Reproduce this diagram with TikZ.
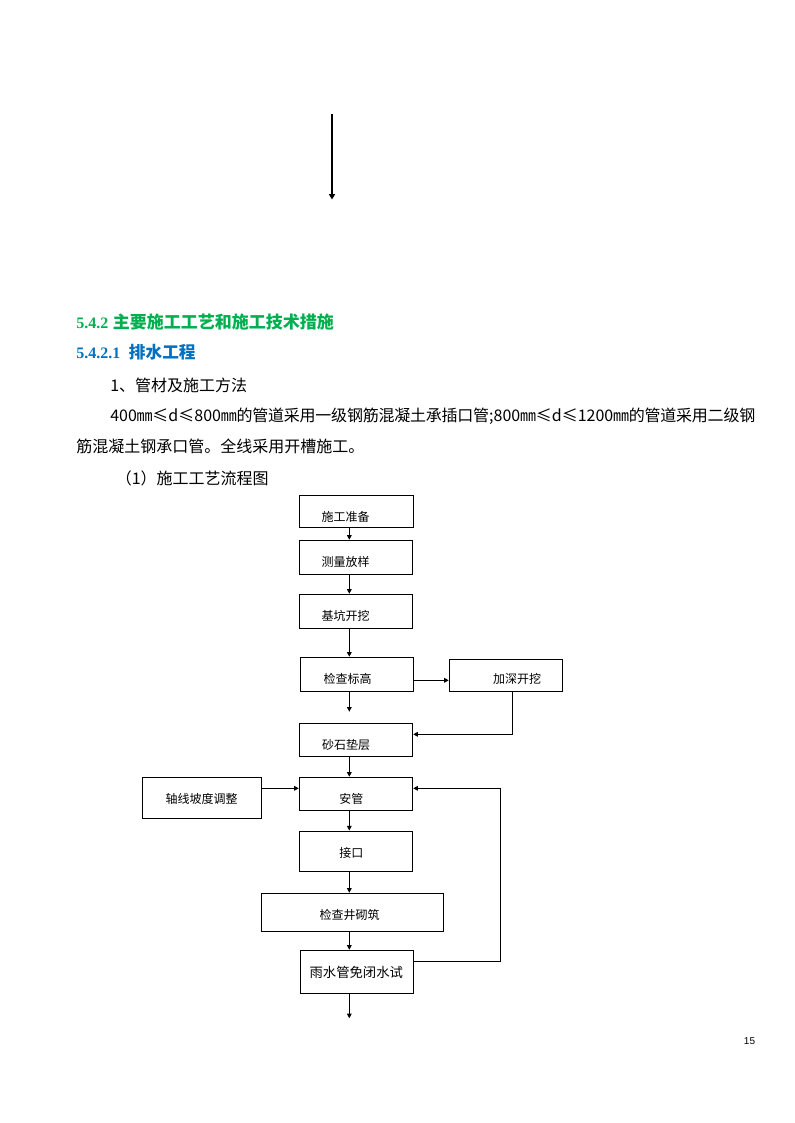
\documentclass[tikz,border=0pt]{standalone}
\usepackage{fontspec}
\setmainfont{Liberation Serif}
\newfontfamily\cjk{Noto Sans CJK SC}
\newfontfamily\pagefont{Liberation Sans}
\usetikzlibrary{arrows.meta}
\XeTeXlinebreaklocale "zh"
\XeTeXlinebreakskip=0pt plus 1pt minus 0.3pt
\definecolor{hgreen}{RGB}{0,176,80}
\definecolor{hblue}{RGB}{0,112,192}
\tikzset{
  bx/.style 2 args={draw, line width=0.75pt, inner sep=0pt, minimum width=#1*0.75pt, minimum height=#2*0.75pt},
  lbl/.style={inner sep=0pt, font=\cjk\fontsize{9pt}{11pt}\selectfont},
  arr/.style={line width=0.75pt, -{Triangle[length=3.5pt,width=3.5pt]}},
  ln/.style={line width=0.75pt},
  body/.style={inner sep=0pt, anchor=west, font=\cjk\fontsize{12pt}{16pt}\selectfont},
}
\begin{document}
\begin{tikzpicture}[x=0.75pt,y=-0.75pt]
\useasboundingbox (0,0) rectangle (794,1123);
% top arrow
\coordinate (ta) at (332,114);
\coordinate (tb) at (332,199.5);
\draw[line width=1.5pt, -{Triangle[length=4pt,width=4.5pt]}] (ta) -- (tb);

% headings
\node[inner sep=0pt, anchor=west, text=hgreen, font=\bfseries\fontsize{12pt}{16pt}\selectfont] (h1) at (76,322) {5.4.2\hspace{3.5pt}{\cjk\bfseries\fontsize{12.75pt}{16pt}\selectfont 主要施工工艺和施工技术措施}};
\node[inner sep=0pt, anchor=west, text=hblue, font=\bfseries\fontsize{12pt}{16pt}\selectfont] (h2) at (76,352.5) {5.4.2.1\hspace{6.5pt}{\cjk\bfseries\fontsize{12.5pt}{16pt}\selectfont 排水工程}};
\node[body] (b1) at (110,385) {1、管材及施工方法};
\node[body, text width=645*0.75pt] (b2) at (110,416.7) {\parfillskip=0pt 400㎜≤d≤800㎜的管道采用一级钢筋混凝土承插口管;800㎜≤d≤1200㎜的管道采用二级钢\par};
\node[body] (b3) at (76,446.7) {筋混凝土钢承口管。全线采用开槽施工。};
\node[body] (b4) at (115.5,478.3) {（1）施工工艺流程图};

% column for arrows
\coordinate (col) at (349.3,0);

% boxes
\node[bx={114}{32}] (n1) at (356.3,511.3) {};
\node[bx={113.4}{34}] (n2) at (356,557.3) {};
\node[bx={113.4}{34}] (n3) at (356,611.3) {};
\node[bx={113}{34}] (n4) at (356.8,674.3) {};
\node[bx={113.4}{32}] (n4b) at (506,675.3) {};
\node[bx={113.4}{32.7}] (n5) at (356,739.7) {};
\node[bx={119.4}{41}] (n6) at (202,797.8) {};
\node[bx={113.4}{33.4}] (n7) at (356,794) {};
\node[bx={113.4}{40.3}] (n8) at (356,851.2) {};
\node[bx={182}{38.4}] (n9) at (352.3,912.5) {};
\node[bx={113}{43}] (n10) at (356.8,971.8) {};

% labels
\node[lbl] (t1) at (345.5,516.7) {施工准备};
\node[lbl] (t2) at (345.5,561.7) {测量放样};
\node[lbl] (t3) at (345.5,616) {基坑开挖};
\node[lbl] (t4) at (347.5,679.3) {检查标高};
\node[lbl] (t4b) at (517,679.3) {加深开挖};
\node[lbl] (t5) at (346,745) {砂石垫层};
\node[lbl] (t6) at (201.7,799) {轴线坡度调整};
\node[lbl] (t7) at (351.3,799.3) {安管};
\node[lbl] (t8) at (351.3,853.3) {接口};
\node[lbl] (t9) at (349.7,915) {检查井砌筑};
\node[lbl, font=\cjk\fontsize{10pt}{12pt}\selectfont] (t10) at (356.3,972.7) {雨水管免闭水试};

% helper coordinates
\coordinate (gap1) at (349.3,711.7);
\coordinate (endc) at (349.3,1018.3);
\coordinate (yA) at (0,680.3);
\coordinate (xB) at (512.3,734.3);
\coordinate (yC) at (0,788.3);
\coordinate (fb1) at (500.7,961);

% connectors
\draw[arr] (n1.south -| col) -- (n2.north -| col);
\draw[arr] (n2.south -| col) -- (n3.north -| col);
\draw[arr] (n3.south -| col) -- (n4.north -| col);
\draw[arr] (n4.south -| col) -- (gap1);
\draw[arr] (n4.east |- yA) -- (n4b.west |- yA);
\draw[arr] (n4b.south -| xB) -- (xB) -- (n5.east |- xB);
\draw[arr] (n5.south -| col) -- (n7.north -| col);
\draw[arr] (n6.east |- yC) -- (n7.west |- yC);
\draw[arr] (n7.south -| col) -- (n8.north -| col);
\draw[arr] (n8.south -| col) -- (n9.north -| col);
\draw[arr] (n9.south -| col) -- (n10.north -| col);
\draw[arr] (n10.east |- fb1) -- (fb1) |- (n7.east |- yC);
\draw[arr] (n10.south -| col) -- (endc);

% page number
\node[inner sep=0pt, font=\pagefont\fontsize{7.5pt}{9pt}\selectfont] (pg) at (749.5,1041) {15};
\end{tikzpicture}
\end{document}
